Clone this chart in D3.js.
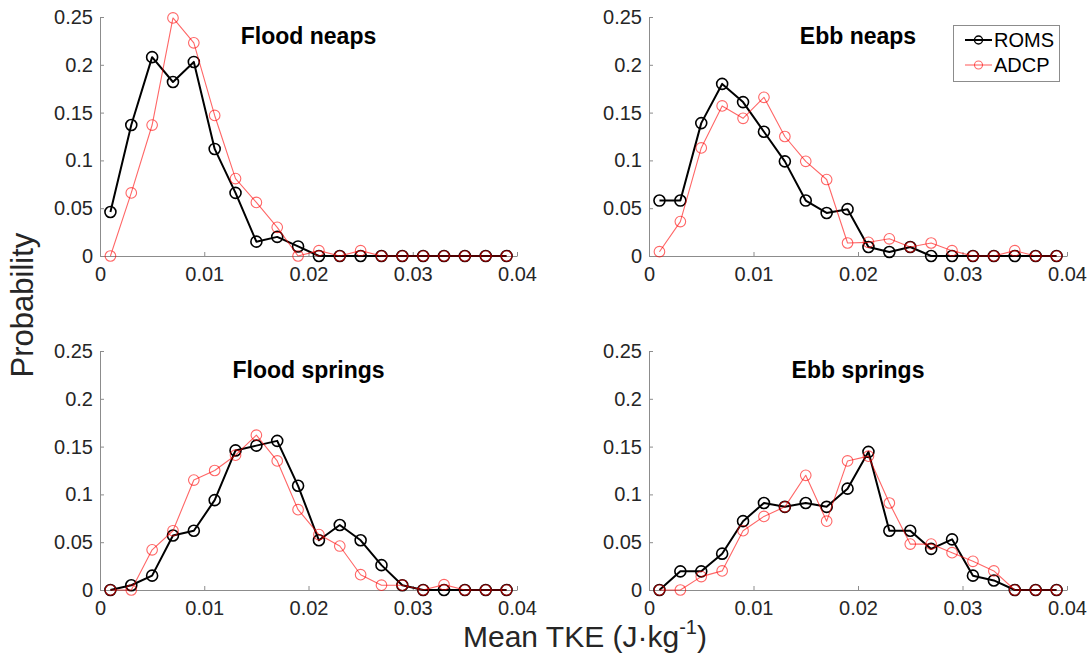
<!DOCTYPE html>
<html>
<head>
<meta charset="utf-8">
<script src="https://cdn.jsdelivr.net/npm/d3@7"></script>
<style>
  html, body { margin: 0; padding: 0; background: #fff; }
  svg { display: block; font-family: "Liberation Sans", Arial, Helvetica, sans-serif; }
</style>
</head>
<body>
<svg id="chart" width="1092" height="654"></svg>
<script>
// ---- data ----
const tkeBins = [0.001,0.003,0.005,0.007,0.009,0.011,0.013,0.015,0.017,0.019,0.021,0.023,0.025,0.027,0.029,0.031,0.033,0.035,0.037,0.039];

const floodNeapsROMS = [0.046,0.137,0.208,0.182,0.203,0.112,0.066,0.015,0.020,0.010,0,0,0,0,0,0,0,0,0,0];
const floodNeapsADCP = [0,0.066,0.137,0.249,0.223,0.147,0.081,0.056,0.030,0,0.0056,0,0.0056,0,0,0,0,0,0,0];

const ebbNeapsROMS = [0.058,0.058,0.139,0.180,0.161,0.130,0.099,0.058,0.045,0.049,0.0094,0.0042,0.0094,0,0,0,0,0,0,0];
const ebbNeapsADCP = [0.0045,0.036,0.113,0.157,0.144,0.166,0.125,0.099,0.080,0.0136,0.0143,0.018,0.0094,0.0136,0.0056,0,0,0.0056,0,0];

const floodSpringsROMS = [0,0.005,0.015,0.057,0.062,0.094,0.146,0.151,0.156,0.109,0.052,0.068,0.052,0.026,0.005,0,0,0,0,0];
const floodSpringsADCP = [0,0,0.042,0.062,0.115,0.125,0.141,0.162,0.135,0.084,0.058,0.046,0.016,0.005,0.005,0,0.0056,0,0,0];

const ebbSpringsROMS = [0,0.0195,0.0195,0.038,0.072,0.091,0.087,0.091,0.087,0.106,0.1445,0.062,0.062,0.043,0.053,0.015,0.010,0,0,0];
const ebbSpringsADCP = [0,0,0.014,0.020,0.062,0.077,0.087,0.120,0.072,0.135,0.140,0.091,0.048,0.048,0.039,0.030,0.020,0,0,0];

const panelTitles = ["Flood neaps","Ebb neaps","Flood springs","Ebb springs"];
const seriesNames = ["ROMS","ADCP"];
const xTicks = [0,0.01,0.02,0.03,0.04];
const yTicks = [0,0.05,0.1,0.15,0.2,0.25];
const xLabel = "Mean TKE (J\u00B7kg";
const yLabel = "Probability";

// ---- layout ----
const svg = d3.select("#chart");
const panels = [
  {title: panelTitles[0], roms: floodNeapsROMS, adcp: floodNeapsADCP, x0: 100, x1: 517, y0: 256, y1: 17},
  {title: panelTitles[1], roms: ebbNeapsROMS, adcp: ebbNeapsADCP, x0: 649, x1: 1067, y0: 256, y1: 17},
  {title: panelTitles[2], roms: floodSpringsROMS, adcp: floodSpringsADCP, x0: 100, x1: 517, y0: 590, y1: 351},
  {title: panelTitles[3], roms: ebbSpringsROMS, adcp: ebbSpringsADCP, x0: 649, x1: 1067, y0: 590, y1: 351}
];

const axisColor = "#8c8c8c";
const textColor = "#262626";
const romsColor = "#000000";
const adcpColor = "rgba(255,0,0,0.6)";

panels.forEach(p => {
  const x = d3.scaleLinear().domain([0, 0.04]).range([p.x0, p.x1]);
  const y = d3.scaleLinear().domain([0, 0.25]).range([p.y0, p.y1]);
  const g = svg.append("g");

  // axes (ticks inward)
  const xAxis = d3.axisBottom(x).tickValues(xTicks).tickFormat(d => d === 0 ? "0" : d3.format(".2f")(d)).tickSizeInner(-4).tickSizeOuter(0).tickPadding(10);
  const yAxis = d3.axisLeft(y).tickValues(yTicks).tickFormat(d => d === 0 ? "0" : String(+d.toFixed(2))).tickSizeInner(-4).tickSizeOuter(0).tickPadding(10);

  const gx = g.append("g").attr("transform", `translate(0,${p.y0})`).call(xAxis);
  const gy = g.append("g").attr("transform", `translate(${p.x0},0)`).call(yAxis);
  [gx, gy].forEach(a => {
    a.select(".domain").attr("stroke", axisColor).attr("stroke-width", 1);
    a.selectAll(".tick line").attr("stroke", axisColor);
    a.selectAll(".tick text").attr("fill", textColor).style("font-size", "20px").style("font-family", "Liberation Sans, Arial, sans-serif");
  });
  gx.selectAll(".tick text").attr("dy", 0).attr("y", 25);
  gy.selectAll(".tick text").attr("x", -7);

  const line = d3.line().x((d, i) => x(tkeBins[i])).y(d => y(d));

  // ROMS
  g.append("path").datum(p.roms).attr("d", line).attr("fill", "none").attr("stroke", romsColor).attr("stroke-width", 2).attr("stroke-linejoin", "round");
  g.selectAll("circle.roms").data(p.roms).join("circle").attr("class", "roms")
    .attr("cx", (d, i) => x(tkeBins[i])).attr("cy", d => y(d)).attr("r", 5.5)
    .attr("fill", "none").attr("stroke", romsColor).attr("stroke-width", 1.6);

  // ADCP
  g.append("path").datum(p.adcp).attr("d", line).attr("fill", "none").attr("stroke", adcpColor).attr("stroke-width", 1.1).attr("stroke-linejoin", "round");
  g.selectAll("circle.adcp").data(p.adcp).join("circle").attr("class", "adcp")
    .attr("cx", (d, i) => x(tkeBins[i])).attr("cy", d => y(d)).attr("r", 5.3)
    .attr("fill", "none").attr("stroke", adcpColor).attr("stroke-width", 1.1);

  // title
  g.append("text").attr("x", (p.x0 + p.x1) / 2).attr("y", p.y1 + 27)
    .attr("text-anchor", "middle").attr("fill", "#000").style("font-weight", "bold").style("font-size", "23px")
    .text(p.title);
});

// legend
const lg = svg.append("g");
lg.append("rect").attr("x", 953.5).attr("y", 25.5).attr("width", 106).attr("height", 56)
  .attr("fill", "#fff").attr("stroke", "#8c8c8c").attr("stroke-width", 1);
[{name: seriesNames[0], color: romsColor, w: 2, cw: 1.4, y: 40}, {name: seriesNames[1], color: adcpColor, w: 1.1, cw: 1.1, y: 65}].forEach(s => {
  lg.append("line").attr("x1", 965).attr("x2", 992).attr("y1", s.y).attr("y2", s.y).attr("stroke", s.color).attr("stroke-width", s.w);
  lg.append("circle").attr("cx", 978.5).attr("cy", s.y).attr("r", 4).attr("fill", "none").attr("stroke", s.color).attr("stroke-width", s.cw);
  lg.append("text").attr("x", 994).attr("y", s.y + 7).attr("fill", "#000").style("font-size", "20px").text(s.name);
});

// axis labels
svg.append("text").attr("transform", "translate(33,305) rotate(-90)").attr("text-anchor", "middle")
  .attr("fill", textColor).style("font-size", "31px").text(yLabel);

const xl = svg.append("text").attr("x", 585).attr("y", 647).attr("text-anchor", "middle")
  .attr("fill", textColor).style("font-size", "30px");
xl.append("tspan").text(xLabel);
xl.append("tspan").attr("dy", -13).style("font-size", "20px").text("-1");
xl.append("tspan").attr("dy", 13).text(")");
</script>
</body>
</html>
